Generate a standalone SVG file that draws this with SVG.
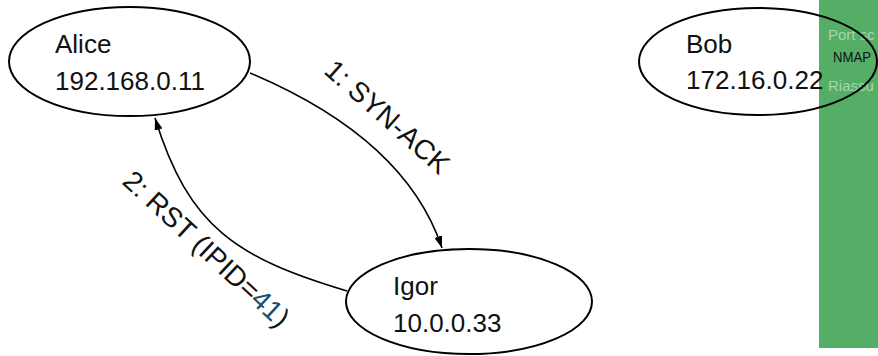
<svg xmlns="http://www.w3.org/2000/svg" width="878" height="356" viewBox="0 0 878 356">
  <defs>
    <marker id="arrow" viewBox="0 0 12 8" refX="12" refY="4" markerWidth="12" markerHeight="8" markerUnits="userSpaceOnUse" orient="auto">
      <path d="M0,0 L12,4 L0,8 Z" fill="#000"/>
    </marker>
    <style>
      .node { fill: none; stroke: #000; stroke-width: 2; }
      .label { font-family: "Liberation Sans", Arial, sans-serif; font-size: 26px; fill: #111; }
      .elabel { font-size: 28px; }
      .edge { fill: none; stroke: #000; stroke-width: 1.6; marker-end: url(#arrow); }
      .side { font-family: "Liberation Sans", Arial, sans-serif; font-size: 15px; }
      .dim { fill: #a6d6ae; }
      .num { fill: #1f4e6e; }
    </style>
  </defs>
  <rect width="878" height="356" fill="#fff"/>

  <!-- side panel -->
  <g id="sidebar">
    <rect x="819" y="0" width="59" height="348" fill="#55ae66"/>
    <text class="side dim" x="828" y="40">Port sc</text>
    <text class="side" x="833" y="62" font-size="12" fill="#111" textLength="38" lengthAdjust="spacingAndGlyphs">NMAP</text>
    <text class="side dim" x="828" y="91">Riassu</text>
  </g>

  <g id="alice">
    <ellipse class="node" cx="129.5" cy="61.5" rx="120.5" ry="54.5"/>
    <text class="label" x="55" y="53">Alice</text>
    <text class="label" x="55" y="90">192.168.0.11</text>
  </g>

  <g id="bob">
    <ellipse class="node" cx="758" cy="61.5" rx="119" ry="53.5"/>
    <text class="label" x="686" y="53">Bob</text>
    <text class="label" x="686" y="89">172.16.0.22</text>
  </g>

  <g id="igor">
    <ellipse class="node" cx="469" cy="301.5" rx="123" ry="52.5"/>
    <text class="label" x="393" y="295">Igor</text>
    <text class="label" x="393" y="332">10.0.0.33</text>
  </g>

  <g id="connectors">
    <path class="edge" d="M250,73 C333,108 413.5,162.6 442,248"/>
    <path class="edge" d="M347,291 C237,258 189,228 155,118"/>
    <text class="label elabel" transform="translate(381,124) rotate(41.5)" text-anchor="middle">1: SYN-ACK</text>
    <text class="label elabel" transform="translate(200,256) rotate(42.8)" text-anchor="middle">2: RST (IPID=<tspan class="num">41</tspan>)</text>
  </g>
</svg>
